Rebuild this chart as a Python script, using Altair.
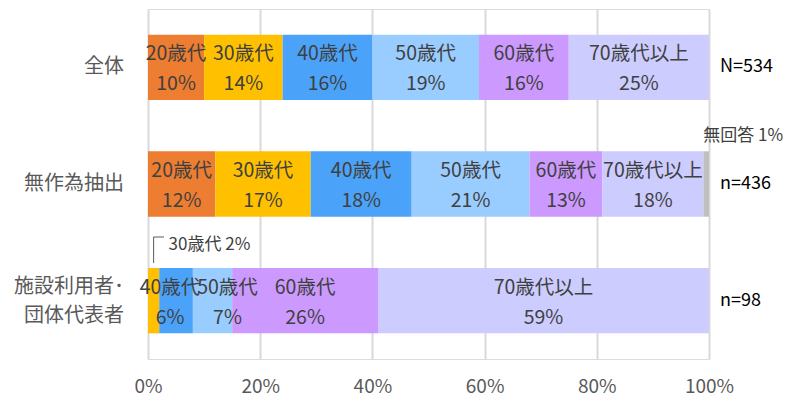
import altair as alt
import pandas as pd

groups = ["全体", "無作為抽出", "施設利用者・団体代表者"]
group_labels = ["全体", "無作為抽出", "施設利用者･\n団体代表者"]
ages = ["20歳代", "30歳代", "40歳代", "50歳代", "60歳代", "70歳代以上", "無回答"]
colors = ["#ED7D31", "#FFC000", "#4BA3F9", "#99CCFF", "#CC99FF", "#CCCCFF", "#BFBFBF"]
vals_all = [10, 14, 16, 19, 16, 25, 0]
vals_random = [12, 17, 18, 21, 13, 18, 1]
vals_facility = [0, 2, 6, 7, 26, 59, 0]
n_labels = ["N=534", "n=436", "n=98"]
x_ticks = [0, 20, 40, 60, 80, 100]

FONT = "Noto Sans CJK JP"
FAC = groups[2]

rows = []
for g, vals in zip(groups, [vals_all, vals_random, vals_facility]):
    cum = 0
    for a, v in zip(ages, vals):
        if v > 0:
            rows.append({"group": g, "age": a, "value": v, "start": cum, "end": cum + v,
                         "mid": cum + v / 2, "pct": f"{v}%"})
        cum += v
df = pd.DataFrame(rows)

outside = {("無作為抽出", "無回答"), (FAC, "30歳代")}
nudged = {(FAC, "40歳代"): -6, (FAC, "50歳代"): 15}
keys = list(zip(df.group, df.age))
inside = df[[k not in outside and k not in nudged for k in keys]]
out_rand = df[(df.group == "無作為抽出") & (df.age == "無回答")].copy()
out_rand["text"] = out_rand.age + " " + out_rand.pct
out_fac = df[(df.group == FAC) & (df.age == "30歳代")].copy()
out_fac["text"] = out_fac.age + " " + out_fac.pct

lab_df = pd.DataFrame({"group": groups, "label": group_labels, "n": n_labels})
lab_single = lab_df[~lab_df.label.str.contains("\n")]
lab_multi = lab_df[lab_df.label.str.contains("\n")]

yscale = alt.Scale(domain=groups, paddingInner=0.44, paddingOuter=0.22)
xscale = alt.Scale(domain=[0, 100], nice=False)

base_y = alt.Y("group:N", scale=yscale, axis=None)

bars = alt.Chart(df).mark_bar().encode(
    x=alt.X("start:Q", scale=xscale, title=None,
            axis=alt.Axis(values=x_ticks, labelExpr="datum.value + '%'", grid=True,
                          gridColor="#D9D9D9", gridWidth=2, domain=False, ticks=False,
                          labelFont=FONT, labelFontSize=19, labelColor="#595959",
                          labelPadding=18, labelFlush=False)),
    x2="end:Q",
    y=base_y,
    color=alt.Color("age:N", scale=alt.Scale(domain=ages, range=colors), legend=None),
)

txt_kw = dict(font=FONT, fontSize=19.5, color="#404040", baseline="middle", align="center")


def seg_text(data, dx=0):
    a = alt.Chart(data).mark_text(dy=-13, dx=dx, **txt_kw).encode(
        x=alt.X("mid:Q", scale=xscale), y=base_y, text="age:N")
    p = alt.Chart(data).mark_text(dy=17, dx=dx, **txt_kw).encode(
        x=alt.X("mid:Q", scale=xscale), y=base_y, text="pct:N")
    return [a, p]


seg_layers = seg_text(inside)
for (g, a), dx in nudged.items():
    seg_layers += seg_text(df[(df.group == g) & (df.age == a)], dx)

ann_kw = dict(font=FONT, fontSize=17, color="#404040", align="left", baseline="middle")
rand_txt = alt.Chart(out_rand).mark_text(dx=-3, dy=-48, **ann_kw).encode(
    x=alt.X("mid:Q", scale=xscale), y=base_y, text="text:N")
fac_txt = alt.Chart(out_fac).mark_text(dx=15, dy=-56, **ann_kw).encode(
    x=alt.X("mid:Q", scale=xscale), y=base_y, text="text:N")
lead_v = alt.Chart(out_fac).mark_rule(color="#595959", strokeWidth=1).encode(
    x=alt.X("mid:Q", scale=xscale), y=alt.value(228), y2=alt.value(254))
lead_h = alt.Chart(out_fac).mark_rule(color="#595959", strokeWidth=1).encode(
    x=alt.X("mid:Q", scale=xscale), x2=alt.value(16), y=alt.value(228))

lab_kw = dict(font=FONT, fontSize=20, color="#595959", align="right", baseline="middle")
left_single = alt.Chart(lab_single).mark_text(**lab_kw).encode(
    x=alt.value(-24), y=base_y, text="label:N")
left_multi = alt.Chart(lab_multi).mark_text(lineBreak="\n", lineHeight=29, dy=-14, **lab_kw).encode(
    x=alt.value(-24), y=base_y, text="label:N")
n_txt = alt.Chart(lab_df).mark_text(font=FONT, fontSize=18, color="#000000", align="left",
                                    baseline="middle", dx=11).encode(
    x=alt.datum(100, scale=xscale), y=base_y, text="n:N")

chart = alt.layer(bars, *seg_layers, rand_txt, fac_txt, lead_v, lead_h,
                  left_single, left_multi, n_txt).properties(
    width=561, height=350,
    autosize=alt.AutoSizeParams(type="none"),
    padding={"left": 148, "top": 9, "right": 83, "bottom": 46},
).configure_view(stroke=None).configure(background="white")

chart.save("out.html", embed_options={"renderer": "svg", "actions": False})
